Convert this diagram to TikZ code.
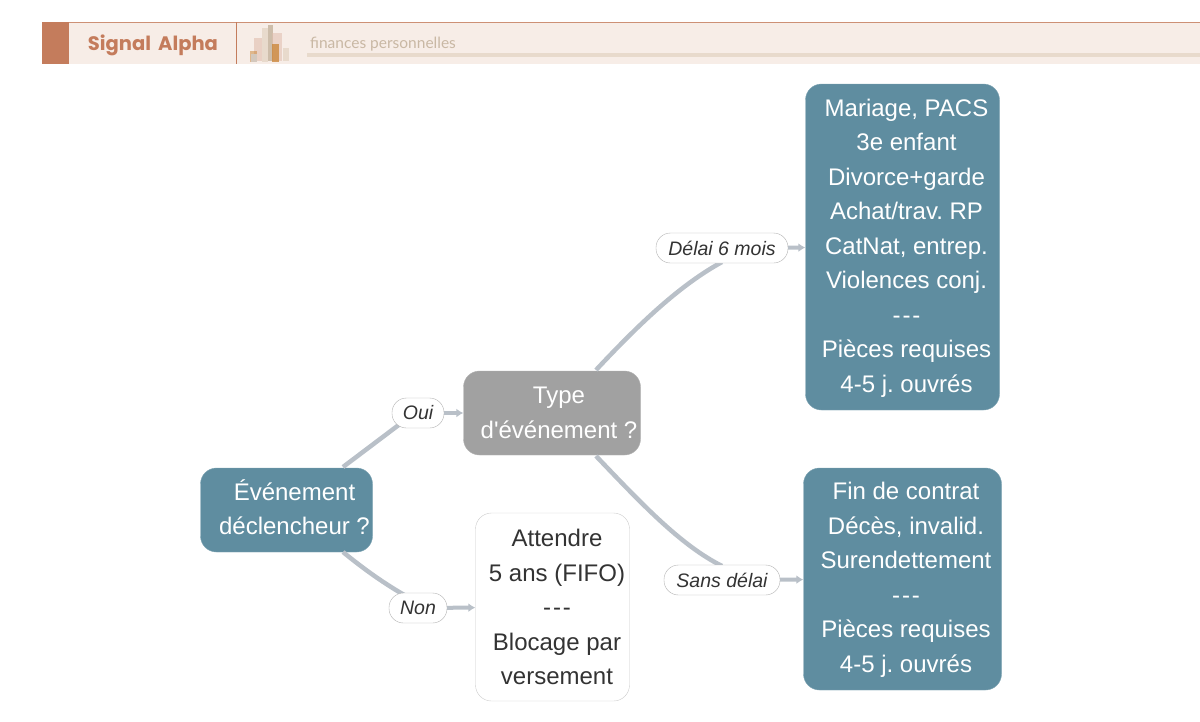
\documentclass[tikz,border=0pt]{standalone}
\usepackage{fontspec}
\setmainfont{Liberation Sans}
\newfontfamily\brandfont{Poppins}
\newfontfamily\subfont{Lato}
\usetikzlibrary{arrows.meta}
\definecolor{teal}{HTML}{5F8DA0}
\definecolor{slate}{HTML}{B9C0C8}
\definecolor{rust}{HTML}{C47C5C}
\definecolor{cream}{HTML}{F7EDE7}
\definecolor{sand}{HTML}{E8DACC}
\definecolor{wheat}{HTML}{C9B8A4}
\definecolor{amber}{HTML}{C98232}
\definecolor{ink}{HTML}{333333}
\newcommand{\dashes}{-\kern2pt-\kern2pt-}
\font\straightfont="Liberation Sans" at 24pt
\newcommand{\straightquote}{{\straightfont'}}
\tikzset{
	boxlabel/.style={font=\fontsize{24}{34.5}\selectfont\frenchspacing, align=center},
	bluebox/.style={draw=teal!80!white, fill=teal, rounded corners=16, inner sep=0},
	plainbox/.style={draw=black!20, fill=white, rounded corners=16, inner sep=0},
	greybox/.style={draw=black!30, fill=black!37, rounded corners=16, inner sep=0},
	pill/.style={draw=black!30, fill=white, rounded corners=14.5, inner sep=0, text=ink, font=\fontsize{19.5}{23}\selectfont\itshape},
	link/.style={draw=slate, line width=4.5},
	linkarrow/.style={draw=slate, line width=4, -{Latex[length=7,width=9]}},
}
\begin{document}
\begin{tikzpicture}[x=1pt,y=-1pt]
	\useasboundingbox (0,0) rectangle (1200,721);
	% header
	\fill[cream] (42,22) rectangle (1200,64);
	\draw[rust!85!white, line width=1] (42,22) to (1200,22);
	\fill[rust] (42,22) rectangle (69,64);
	\draw[rust, line width=1] (236.5,22) to (236.5,64);
	\node[text=rust, font=\brandfont\fontsize{19.5}{24}\selectfont\bfseries] (brand) at (153,45) {Signal\kern3pt{} Alpha};
	\node[text=wheat, font=\subfont\fontsize{15.5}{18}\selectfont, anchor=west, inner sep=0] (topic) at (310,44) {finances personnelles};
	\fill[sand] (307,53) rectangle (1200,57);
	% logo
	\fill[rust!50, opacity=.6] (254,38) rectangle (262,61);
	\fill[amber, opacity=.5] (250,51) rectangle (257,62);
	\fill[sand!80!gray] (251,54) rectangle (257,62);
	\fill[sand] (262,28) rectangle (268,62);
	\fill[wheat, opacity=.9] (268,25) rectangle (273,61);
	\fill[rust!50, opacity=.55] (272,33) rectangle (282,61);
	\fill[amber, opacity=.75] (272,44) rectangle (279,62);
	\fill[sand] (283,48) rectangle (289,61);
	% nodes
	\node[bluebox, minimum width=172, minimum height=84, label={[boxlabel, text=white, xshift=8, yshift=3]center:Événement\\déclencheur ?}] (evt) at (286.5,510) {};
	\node[greybox, minimum width=177, minimum height=84, label={[boxlabel, text=white, xshift=7]center:Type\\d\straightquote événement ?}] (type) at (552,413) {};
	\node[plainbox, minimum width=154, minimum height=188, label={[boxlabel, text=ink, xshift=4.5]center:Attendre\\5 ans (FIFO)\\\dashes\\Blocage par\\versement}] (wait) at (552.5,607) {};
	\node[bluebox, minimum width=194, minimum height=326, label={[boxlabel, text=white, xshift=4, yshift=-1]center:Mariage, PACS\\3e enfant\\Divorce+garde\\Achat/trav. RP\\CatNat, entrep.\\Violences conj.\\\dashes\\Pièces requises\\4-5 j. ouvrés}] (docs) at (902.5,247) {};
	\node[bluebox, minimum width=198, minimum height=222, label={[boxlabel, text=white, xshift=3.5, yshift=-1]center:Fin de contrat\\Décès, invalid.\\Surendettement\\\dashes\\Pièces requises\\4-5 j. ouvrés}] (free) at (902.5,579) {};
	% pills
	\coordinate (evtUp) at (343,467);
	\coordinate (evtDown) at (343,552);
	\coordinate (typeUp) at (596,370);
	\coordinate (typeDown) at (596,456);
	\coordinate (ouiIn) at (400,424);
	\coordinate (nonIn) at (406,596);
	\coordinate (delaiIn) at (722,262);
	\coordinate (sansIn) at (722,566);
	\draw[link] (evtUp) to (ouiIn);
	\draw[link] (evtDown) .. controls (365,570) and (385,584) .. (nonIn);
	\draw[link] (typeUp) .. controls (640,323) and (680,285) .. (delaiIn);
	\draw[link] (typeDown) .. controls (640,502) and (680,545) .. (sansIn);
	\node[pill, minimum width=52, minimum height=30] (oui) at (418,413) {Oui};
	\node[pill, minimum width=58, minimum height=30] (non) at (418,608) {Non};
	\node[pill, minimum width=132, minimum height=30] (delai) at (722,248) {Délai 6 mois};
	\node[pill, minimum width=116, minimum height=30] (sans) at (722,580) {Sans délai};
	\draw[linkarrow] (oui) to (type);
	\draw[linkarrow] (non) to (wait);
	\draw[linkarrow] (delai) to (docs);
	\draw[linkarrow] (sans) to (free);
\end{tikzpicture}
\end{document}
